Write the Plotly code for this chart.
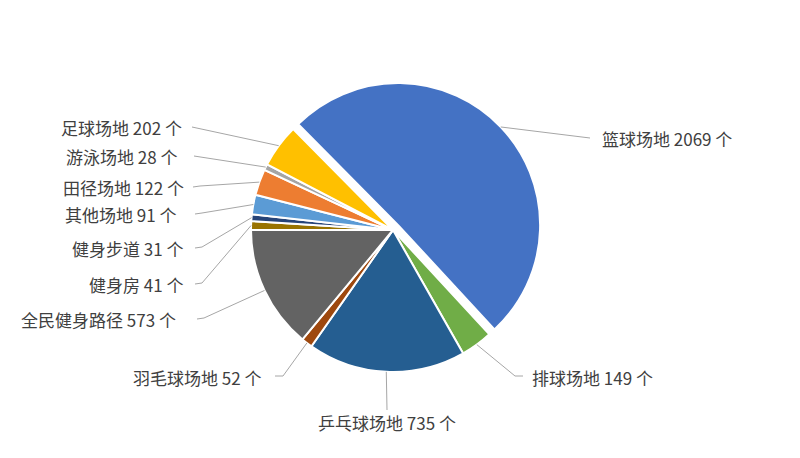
import math
import plotly.graph_objects as go

# ---- data ----
categories = ["篮球场地", "排球场地", "乒乓球场地", "羽毛球场地", "全民健身路径",
              "健身房", "健身步道", "其他场地", "田径场地", "游泳场地", "足球场地"]
values = [2069, 149, 735, 52, 573, 41, 31, 91, 122, 28, 202]
unit = "个"

colors = ["#4472C4", "#70AD47", "#255E91", "#9E480E", "#636363",
          "#997300", "#264478", "#5B9BD5", "#ED7D31", "#A5A5A5", "#FFC000"]
pulls = [0.05, 0, 0, 0, 0, 0, 0, 0, 0, 0, 0]

# ---- layout geometry (page pixels) ----
W, H = 800, 458
PAGE_OFF = 8  # default body margin of the html page
CX, CY, R = 393, 230, 142
ROT = -44.7
maxpull = max(pulls)
half = R * (1 + maxpull)

def px(x):
    return (x - PAGE_OFF) / W

def py(y):
    return 1 - (y - PAGE_OFF) / H

# label placement: (text x, text y, xanchor, leader points from label side toward pie)
label_pos = {
    "篮球场地": (600, 138, "left", [(590, 138)]),
    "排球场地": (530, 377, "left", [(523, 376), (515, 376)]),
    "乒乓球场地": (387, 422, "center", [(387, 410)]),
    "羽毛球场地": (264, 377, "right", [(275, 376), (283, 376)]),
    "全民健身路径": (178, 319, "right", [(197, 319), (204, 318)]),
    "健身房": (186, 284, "right", [(195, 284), (202, 283)]),
    "健身步道": (186, 248, "right", [(195, 248), (202, 247)]),
    "其他场地": (179, 214, "right", [(195, 214), (202, 213)]),
    "田径场地": (186, 187, "right", [(193, 187), (200, 186)]),
    "游泳场地": (180, 156, "right", [(194, 156)]),
    "足球场地": (184, 127, "right", [(192, 127)]),
}

fig = go.Figure(go.Pie(
    labels=categories,
    values=values,
    sort=False,
    direction="clockwise",
    rotation=ROT,
    pull=pulls,
    marker=dict(colors=colors, line=dict(color="white", width=2)),
    textinfo="none",
    hoverinfo="label+value",
    showlegend=False,
    domain=dict(x=[px(CX - half), px(CX + half)], y=[py(CY + half), py(CY - half)]),
))

total = sum(values)
cum = 0.0
shapes = []
annotations = []
for name, v, p in zip(categories, values, pulls):
    a0 = ROT + cum / total * 360
    cum += v
    a1 = ROT + cum / total * 360
    mid = math.radians((a0 + a1) / 2)
    ox = p * R * math.sin(mid)
    oy = -p * R * math.cos(mid)
    ax = CX + ox + R * math.sin(mid)
    ay = CY + oy - R * math.cos(mid)
    tx, ty, anchor, pts = label_pos[name]
    path_pts = pts + [(ax, ay)]
    d = "M {} {}".format(px(path_pts[0][0]), py(path_pts[0][1]))
    for (x, y) in path_pts[1:]:
        d += " L {} {}".format(px(x), py(y))
    shapes.append(dict(type="path", path=d, xref="paper", yref="paper",
                       line=dict(color="#A6A6A6", width=1)))
    annotations.append(dict(
        x=px(tx), y=py(ty), xref="paper", yref="paper",
        text=f"{name} {v} {unit}", showarrow=False,
        xanchor=anchor, yanchor="middle",
        font=dict(family="Noto Sans CJK SC", size=17, color="#404040"),
    ))

fig.update_layout(
    width=W, height=H,
    margin=dict(l=0, r=0, t=0, b=0),
    paper_bgcolor="white",
    plot_bgcolor="white",
    shapes=shapes,
    annotations=annotations,
)

fig.write_html("out.html")
